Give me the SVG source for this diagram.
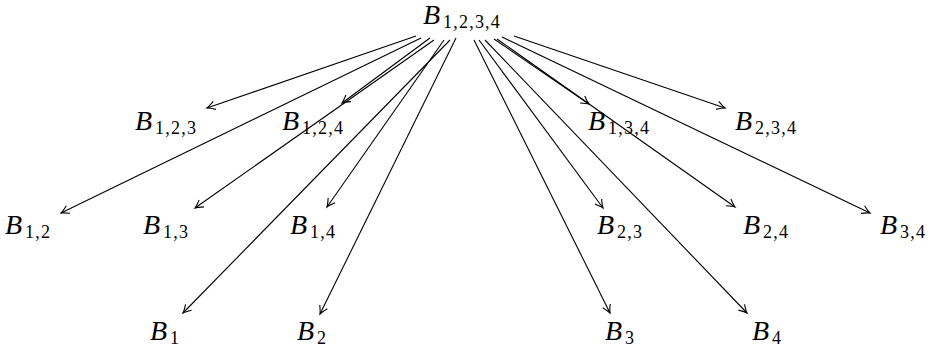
<svg xmlns="http://www.w3.org/2000/svg" width="931" height="349" viewBox="0 0 931 349">
<defs>
<marker id="arr" markerUnits="userSpaceOnUse" orient="auto" markerWidth="14" markerHeight="14" viewBox="-10 -7 14 14" refX="0" refY="0">
<path d="M-8,-4.2 Q-2.5,-0.8 0,0 Q-2.5,0.8 -8,4.2" fill="none" stroke="#000" stroke-width="1.1"/>
</marker>
<style>
.e{stroke:#000;stroke-width:1.1;fill:none;marker-end:url(#arr)}
.l{font-family:'Liberation Serif','Times New Roman',serif;fill:#000}
.b{font-style:italic;font-size:28px}
.s{font-size:18px;letter-spacing:1.2px}
</style>
</defs>
<rect width="931" height="349" fill="#fff"/>
<g id="edges">
<line class="e" x1="416" y1="36" x2="207" y2="108"/>
<line class="e" x1="421" y1="38" x2="61" y2="213"/>
<line class="e" x1="430" y1="38" x2="342" y2="103"/>
<line class="e" x1="434" y1="40" x2="195" y2="208"/>
<line class="e" x1="444" y1="40" x2="327" y2="207"/>
<line class="e" x1="450" y1="40" x2="183" y2="313"/>
<line class="e" x1="456" y1="38" x2="320" y2="314"/>
<line class="e" x1="474" y1="40" x2="610" y2="313"/>
<line class="e" x1="479" y1="40" x2="603" y2="208"/>
<line class="e" x1="485" y1="40" x2="747" y2="313"/>
<line class="e" x1="494" y1="39" x2="589" y2="104"/>
<line class="e" x1="497" y1="39" x2="735" y2="207"/>
<line class="e" x1="502" y1="37" x2="870" y2="213"/>
<line class="e" x1="514" y1="36" x2="725" y2="108"/>
</g>
<g id="n1234"><text class="l" font-family="Liberation Serif, serif" x="423" y="24"><tspan class="b">B</tspan><tspan class="s" dx="3" dy="4">1,2,3,4</tspan></text></g>
<g id="n123"><text class="l" font-family="Liberation Serif, serif" x="135" y="130"><tspan class="b">B</tspan><tspan class="s" dx="3" dy="4">1,2,3</tspan></text></g>
<g id="n124"><text class="l" font-family="Liberation Serif, serif" x="282" y="130"><tspan class="b">B</tspan><tspan class="s" dx="3" dy="4">1,2,4</tspan></text></g>
<g id="n134"><text class="l" font-family="Liberation Serif, serif" x="588" y="130"><tspan class="b">B</tspan><tspan class="s" dx="3" dy="4">1,3,4</tspan></text></g>
<g id="n234"><text class="l" font-family="Liberation Serif, serif" x="735" y="130"><tspan class="b">B</tspan><tspan class="s" dx="3" dy="4">2,3,4</tspan></text></g>
<g id="n12"><text class="l" font-family="Liberation Serif, serif" x="5" y="234"><tspan class="b">B</tspan><tspan class="s" dx="3" dy="4">1,2</tspan></text></g>
<g id="n13"><text class="l" font-family="Liberation Serif, serif" x="143" y="234"><tspan class="b">B</tspan><tspan class="s" dx="3" dy="4">1,3</tspan></text></g>
<g id="n14"><text class="l" font-family="Liberation Serif, serif" x="290" y="234"><tspan class="b">B</tspan><tspan class="s" dx="3" dy="4">1,4</tspan></text></g>
<g id="n23"><text class="l" font-family="Liberation Serif, serif" x="597" y="234"><tspan class="b">B</tspan><tspan class="s" dx="3" dy="4">2,3</tspan></text></g>
<g id="n24"><text class="l" font-family="Liberation Serif, serif" x="743" y="234"><tspan class="b">B</tspan><tspan class="s" dx="3" dy="4">2,4</tspan></text></g>
<g id="n34"><text class="l" font-family="Liberation Serif, serif" x="880" y="234"><tspan class="b">B</tspan><tspan class="s" dx="3" dy="4">3,4</tspan></text></g>
<g id="n1"><text class="l" font-family="Liberation Serif, serif" x="150" y="340"><tspan class="b">B</tspan><tspan class="s" dx="3" dy="4">1</tspan></text></g>
<g id="n2"><text class="l" font-family="Liberation Serif, serif" x="297" y="340"><tspan class="b">B</tspan><tspan class="s" dx="3" dy="4">2</tspan></text></g>
<g id="n3"><text class="l" font-family="Liberation Serif, serif" x="605" y="340"><tspan class="b">B</tspan><tspan class="s" dx="3" dy="4">3</tspan></text></g>
<g id="n4"><text class="l" font-family="Liberation Serif, serif" x="752" y="340"><tspan class="b">B</tspan><tspan class="s" dx="3" dy="4">4</tspan></text></g>
</svg>
